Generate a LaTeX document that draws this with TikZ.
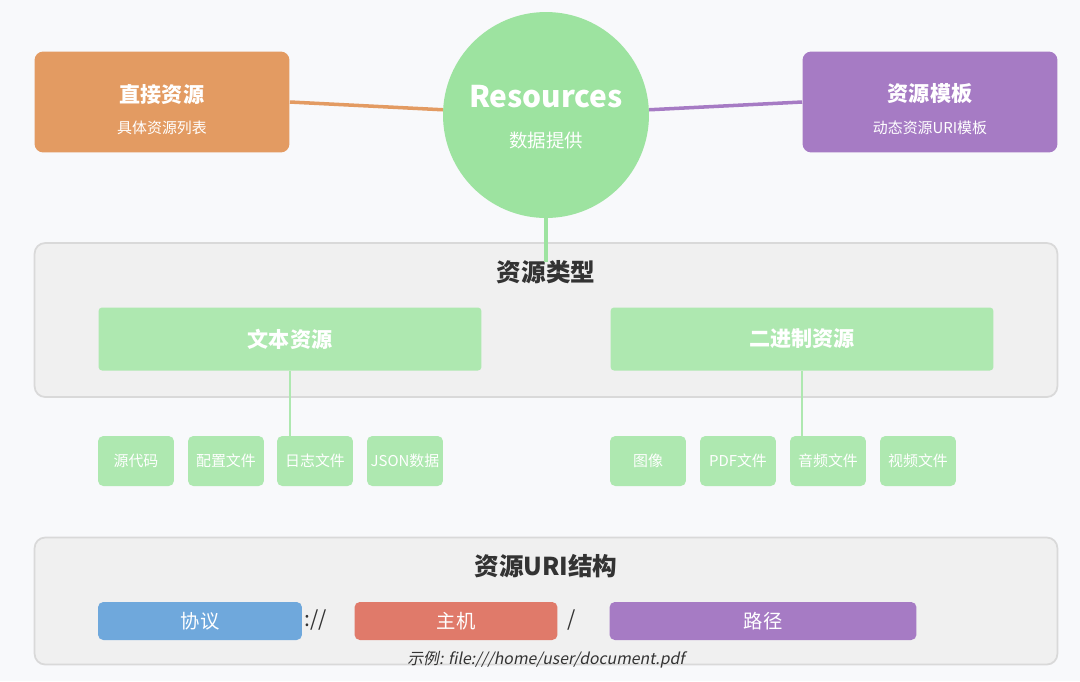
\documentclass[tikz,border=0pt]{standalone}
\usepackage{fontspec}
\setmainfont{Noto Sans CJK SC}
\newfontfamily\slantfont{Noto Sans CJK SC}[FakeSlant=0.2]
\usetikzlibrary{positioning}
\definecolor{bgc}{HTML}{F8F9FB}
\definecolor{panelc}{HTML}{F0F0F0}
\definecolor{orangec}{HTML}{E39B62}
\definecolor{purplec}{HTML}{A67BC4}
\definecolor{greenc}{HTML}{9DE3A0}
\definecolor{lgreen}{HTML}{AEE8B0}
\definecolor{bluec}{HTML}{6FA8DC}
\definecolor{redc}{HTML}{E07A6A}
\definecolor{textc}{HTML}{333333}
\tikzset{
  head/.style={rectangle, rounded corners=5pt, minimum width=5.1cm, minimum height=2.02cm, text=white, align=center},
  panel/.style={rectangle, rounded corners=6pt, draw=black!15, line width=1pt, fill=panelc, minimum width=20.46cm},
  kind/.style={rectangle, rounded corners=2pt, fill=lgreen, minimum width=7.66cm, minimum height=1.26cm, text=white, font=\fontsize{12}{14}\selectfont\bfseries},
  leaf/.style={rectangle, rounded corners=3pt, fill=lgreen, minimum width=1.52cm, minimum height=1cm, text=white, font=\fontsize{8.5}{10}\selectfont, inner sep=1pt},
  bar/.style={rectangle, rounded corners=3pt, minimum height=0.76cm, text=white, font=\fontsize{11}{13}\selectfont},
  title/.style={text=textc, font=\fontsize{14}{16}\selectfont\bfseries},
  link/.style={line width=2pt}
}
\begin{document}
\begin{tikzpicture}[x=0.02cm, y=-0.02cm]
    \useasboundingbox[fill=bgc] (0,0) rectangle (1080,681);
    % top row
    \node (direct) [head, fill=orangec] at (162,102) {};
    \node [text=white, font=\fontsize{12}{14}\selectfont\bfseries] at (162,94) {直接资源};
    \node [text=white, font=\fontsize{8.5}{10}\selectfont] at (162,128) {具体资源列表};
    \node (template) [head, fill=purplec] at (930,102) {};
    \node [text=white, font=\fontsize{12}{14}\selectfont\bfseries] at (930,94) {资源模板};
    \node [text=white, font=\fontsize{8.5}{10}\selectfont] at (930,128) {动态资源URI模板};
    \node (res) [circle, fill=greenc, minimum size=4.12cm] at (546,115) {};
    \node [text=white, font=\fontsize{17}{20}\selectfont\bfseries] at (546,97) {Resources};
    \node [text=white, font=\fontsize{10.5}{12}\selectfont] at (546,140) {数据提供};
    \draw [link, draw=orangec] (direct.east) -- (res);
    \draw [link, draw=purplec] (template.west) -- (res);
    % resource types
    \node (types) [panel, minimum height=3.08cm] at (546,320) {};
    \node (typetitle) [title] at (546,272) {资源类型};
    \coordinate (typetop) at (546,262);
    \draw [link, draw=greenc] (res.south) -- (typetop);
    \node (textres) [kind] at (290,339) {文本资源};
    \node (binres) [kind] at (802,339) {二进制资源};
    \node (src) [leaf] at (136,461) {源代码};
    \node (conf) [leaf] at (226,461) {配置文件};
    \node (log) [leaf] at (315,461) {日志文件};
    \node (json) [leaf] at (405,461) {JSON数据};
    \node (img) [leaf] at (648,461) {图像};
    \node (pdf) [leaf] at (738,461) {PDF文件};
    \node (audio) [leaf] at (828,461) {音频文件};
    \node (video) [leaf] at (918,461) {视频文件};
    \draw [line width=1.2pt, draw=lgreen] (textres.south) -- (textres.south |- log.north);
    \draw [line width=1.2pt, draw=lgreen] (binres.south) -- (binres.south |- audio.north);
    % URI structure
    \node (uri) [panel, minimum height=2.54cm] at (546,601) {};
    \node (urititle) [title] at (546,566) {资源URI结构};
    \node (proto) [bar, fill=bluec, minimum width=4.08cm] at (200,621) {协议};
    \node (sep1) [text=textc, font=\fontsize{12}{14}\selectfont] at (316,620) {://};
    \node (host) [bar, fill=redc, minimum width=4.06cm] at (456,621) {主机};
    \node (sep2) [text=textc, font=\fontsize{12}{14}\selectfont] at (572,620) {/};
    \node (path) [bar, fill=purplec, minimum width=6.14cm] at (763,621) {路径};
    \node (example) [text=textc, font=\fontsize{9}{11}\selectfont\slantfont] at (546,660) {示例: file:///home/user/document.pdf};
\end{tikzpicture}
\end{document}
